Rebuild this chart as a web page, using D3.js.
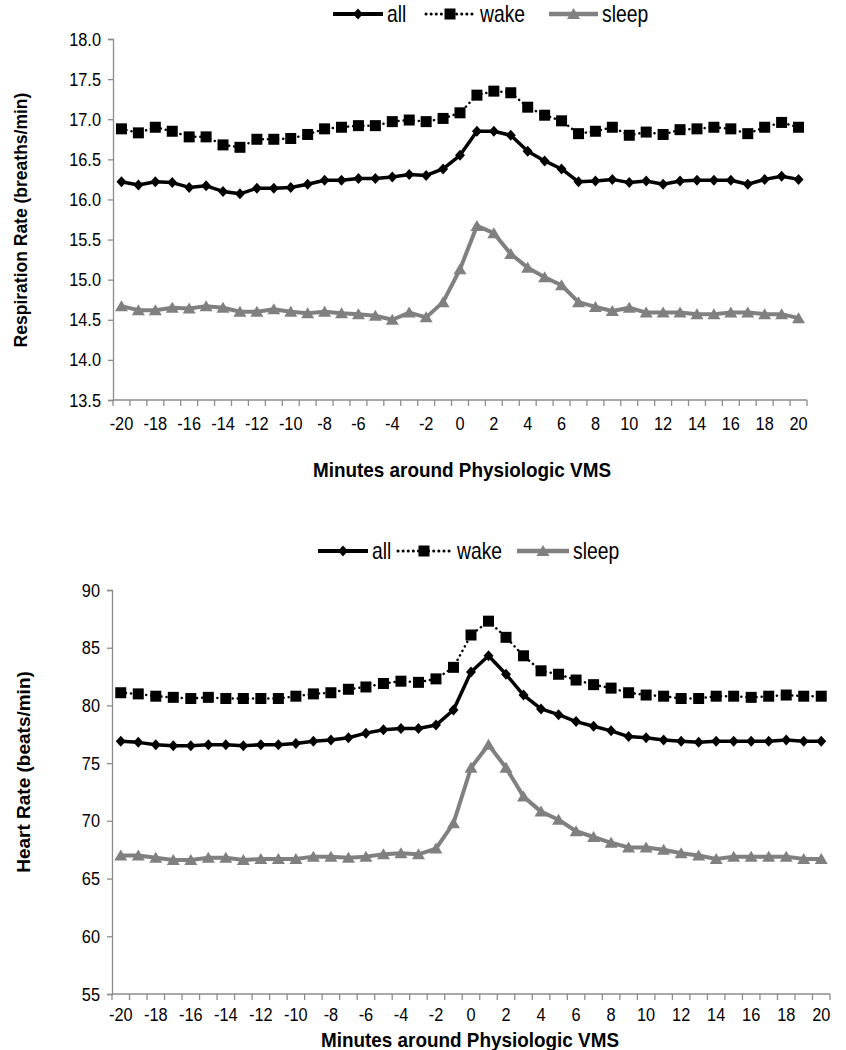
<!DOCTYPE html>
<html><head><meta charset="utf-8">
<script src="https://cdn.jsdelivr.net/npm/d3@7"></script>
<style>
html,body{margin:0;padding:0;background:#fff;}
text{font-family:'Liberation Sans',Arial,sans-serif;}
</style></head>
<body><svg id="c" width="846" height="1050"></svg>
<script>
const minutes = d3.range(-20, 21);
const xTickLabels = d3.range(-20, 21, 2);

const rrAll = [16.22,16.18,16.22,16.21,16.15,16.17,16.10,16.07,16.14,16.14,16.15,16.19,16.24,16.24,16.26,16.26,16.28,16.31,16.30,16.38,16.55,16.85,16.85,16.80,16.60,16.48,16.38,16.22,16.23,16.25,16.21,16.23,16.19,16.23,16.24,16.24,16.24,16.19,16.25,16.29,16.25];
const rrWake = [16.88,16.83,16.90,16.85,16.78,16.78,16.68,16.65,16.75,16.75,16.76,16.81,16.88,16.90,16.92,16.92,16.97,16.99,16.97,17.01,17.08,17.30,17.35,17.33,17.15,17.05,16.98,16.82,16.85,16.90,16.80,16.84,16.81,16.87,16.88,16.90,16.88,16.82,16.90,16.96,16.90];
const rrSleep = [14.67,14.62,14.62,14.65,14.64,14.67,14.65,14.60,14.60,14.63,14.60,14.58,14.60,14.58,14.57,14.55,14.50,14.59,14.53,14.72,15.13,15.67,15.58,15.32,15.15,15.03,14.93,14.72,14.66,14.61,14.65,14.59,14.59,14.59,14.57,14.57,14.59,14.59,14.57,14.57,14.52];
const rrTicks = [13.5,14.0,14.5,15.0,15.5,16.0,16.5,17.0,17.5,18.0];

const hrAll = [76.9,76.8,76.6,76.5,76.5,76.6,76.6,76.5,76.6,76.6,76.7,76.9,77.0,77.2,77.6,77.9,78.0,78.0,78.3,79.6,82.9,84.3,82.7,80.9,79.7,79.2,78.6,78.2,77.8,77.3,77.2,77.0,76.9,76.8,76.9,76.9,76.9,76.9,77.0,76.9,76.9];
const hrWake = [81.1,81.0,80.8,80.7,80.6,80.7,80.6,80.6,80.6,80.6,80.8,81.0,81.1,81.4,81.6,81.9,82.1,82.0,82.3,83.3,86.1,87.3,85.9,84.3,83.0,82.7,82.2,81.8,81.5,81.1,80.9,80.8,80.6,80.6,80.8,80.8,80.7,80.8,80.9,80.8,80.8];
const hrSleep = [67.0,67.0,66.8,66.6,66.6,66.8,66.8,66.6,66.7,66.7,66.7,66.9,66.9,66.8,66.9,67.1,67.2,67.1,67.6,69.8,74.6,76.6,74.6,72.1,70.8,70.1,69.1,68.6,68.1,67.7,67.7,67.5,67.2,67.0,66.7,66.9,66.9,66.9,66.9,66.7,66.7];
const hrTicks = [55,60,65,70,75,80,85,90];

const seriesNames = ["all","wake","sleep"];

const svg = d3.select("#c");
const AX = "#8c8c8c";

// condensed text helper (reference uses a narrow face)
function ntext(g, x, y, str, size, anchor, sx) {
  const t = g.append("g").attr("transform", `translate(${x},${y}) scale(${sx},1)`)
    .append("text").attr("x",0).attr("y",0).attr("text-anchor", anchor)
    .attr("font-size", size).attr("fill","#000").text(str);
  return t;
}

function marker(g, type, x, y) {
  if (type === "all") {
    g.append("path").attr("d", `M${x},${y-5.5}L${x+5},${y}L${x},${y+5.5}L${x-5},${y}Z`).attr("fill","#000");
  } else if (type === "wake") {
    g.append("rect").attr("x", x-5.5).attr("y", y-5.5).attr("width",11).attr("height",11).attr("fill","#000");
  } else {
    g.append("path").attr("d", `M${x},${y-6}L${x+6.5},${y+5}L${x-6.5},${y+5}Z`).attr("fill","#808080");
  }
}
const lineStyle = {
  all: {stroke:"#000", w:3.5, dash:null, cap:"butt"},
  wake: {stroke:"#000", w:2.5, dash:"0.1,5", cap:"round"},
  sleep: {stroke:"#808080", w:4, dash:null, cap:"butt"}
};

function chart(cfg) {
  const g = svg.append("g");
  const x = d3.scaleBand().domain(minutes).range([cfg.x0, cfg.x1]).padding(0);
  const y = d3.scaleLinear().domain([cfg.ticks[0], cfg.ticks[cfg.ticks.length-1]]).range([cfg.y0, cfg.y1]);
  const cx = d => x(d) + x.bandwidth()/2;

  // y axis
  const ya = g.append("g").attr("transform", `translate(${cfg.x0},0)`)
    .call(d3.axisLeft(y).tickValues(cfg.ticks).tickFormat("").tickSize(5));
  ya.select(".domain").attr("stroke", AX).attr("stroke-width",1.3);
  ya.selectAll(".tick line").attr("stroke", AX).attr("stroke-width",1.3);
  ya.selectAll(".tick text").remove();
  cfg.ticks.forEach(v => ntext(g, cfg.x0 - 12, y(v) + 6.5, cfg.fmt(v), 19, "end", 0.86));

  // x axis
  const xa = g.append("g").attr("transform", `translate(0,${cfg.y0})`);
  xa.append("line").attr("x1", cfg.x0).attr("x2", cfg.x1).attr("stroke", AX).attr("stroke-width",1.3);
  const edges = minutes.map(m => x(m)).concat([x(minutes[minutes.length-1]) + x.bandwidth()]);
  xa.selectAll("line.tk").data(edges).join("line").attr("class","tk")
    .attr("x1", d=>d).attr("x2", d=>d).attr("y1",0).attr("y2",6).attr("stroke",AX).attr("stroke-width",1.3);
  xTickLabels.forEach(d => ntext(g, cx(d), cfg.y0 + cfg.xlOff, String(d), 19, "middle", 0.86));

  // axis titles
  g.append("g").attr("transform", `translate(${cfg.ytx},${cfg.yty}) rotate(-90)`)
    .append("text").attr("text-anchor","middle").attr("font-size", cfg.ytSize).attr("font-weight","bold")
    .text(cfg.ytitle);
  ntext(g, cfg.xtx, cfg.xty, "Minutes around Physiologic VMS", 21, "middle", 0.9).attr("font-weight","bold");

  // series
  const data = {all: cfg.all, wake: cfg.wake, sleep: cfg.sleep};
  ["sleep","all","wake"].forEach(name => {
    const vals = data[name];
    const st = lineStyle[name];
    const line = d3.line().x((d,i)=>cx(minutes[i])).y(d=>y(d));
    const p = g.append("path").datum(vals).attr("d", line).attr("fill","none")
      .attr("stroke", st.stroke).attr("stroke-width", st.w).attr("stroke-linecap", st.cap).attr("stroke-linejoin","round");
    if (st.dash) p.attr("stroke-dasharray", st.dash);
    const mg = g.append("g");
    vals.forEach((v,i) => marker(mg, name, cx(minutes[i]), y(v)));
  });

  // legend
  const lg = g.append("g");
  cfg.legend.forEach((L, k) => {
    const name = seriesNames[k];
    const st = lineStyle[name];
    const ln = lg.append("line").attr("x1", L.a).attr("x2", L.b).attr("y1", cfg.ly).attr("y2", cfg.ly)
      .attr("stroke", st.stroke).attr("stroke-width", name === "wake" ? 3 : st.w + 0.5).attr("stroke-linecap", st.cap);
    if (st.dash) ln.attr("stroke-dasharray", st.dash);
    marker(lg, name, (L.a+L.b)/2, cfg.ly);
    ntext(lg, L.t, cfg.ly + 8, name, 23, "start", 0.84);
  });
}

chart({
  x0: 113, x1: 807, y0: 400, y1: 39,
  ticks: rrTicks, fmt: d3.format(".1f"),
  all: rrAll, wake: rrWake, sleep: rrSleep,
  ytitle: "Respiration Rate (breaths/min)", ytSize: 17.5, ytx: 27, yty: 220,
  xtx: 462, xty: 477, xlOff: 30,
  ly: 14,
  legend: [{a:333,b:383,t:387},{a:426,b:474,t:480},{a:549,b:598,t:602}]
});

chart({
  x0: 112, x1: 830, y0: 994, y1: 590,
  ticks: hrTicks, fmt: d3.format("d"),
  all: hrAll, wake: hrWake, sleep: hrSleep,
  ytitle: "Heart Rate (beats/min)", ytSize: 19, ytx: 30, yty: 772,
  xtx: 470, xty: 1047, xlOff: 27,
  ly: 551,
  legend: [{a:318,b:368,t:372},{a:398,b:450,t:457},{a:517,b:569,t:573}]
});
</script></body></html>
